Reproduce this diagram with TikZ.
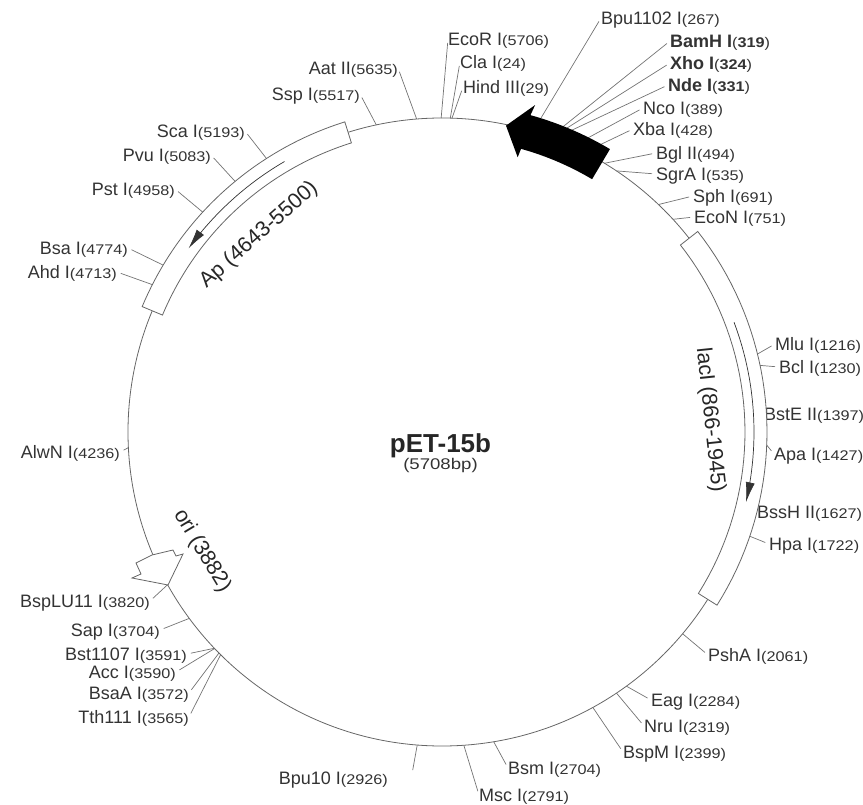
\documentclass[tikz,border=0pt]{standalone}
\usepackage{fontspec}
\setmainfont{Liberation Sans}
\usetikzlibrary{arrows.meta,positioning,calc}

% kb to degrees
\newcommand{\kb}{0.06307}
\newcommand{\sitepos}[1]{\scalebox{1.16}[1]{\fontsize{14pt}{14pt}\selectfont(#1)}}

\tikzset{
  sitelabel/.style={font=\fontsize{18pt}{18pt}\selectfont,text=black!80,inner sep=0pt,text height=12.8pt,text depth=0pt},
  leader/.style={draw=black!55,line width=0.7pt,shorten >=4pt},
  genebox/.style={draw=black!60,line width=0.8pt,fill=white},
  genearrow/.style={draw=black!80,line width=0.7pt,-{Latex[length=20pt,width=9pt]}},
  genename/.style={font=\fontsize{21.5pt}{22pt}\selectfont,text=black!85,inner sep=0pt}
}

\begin{document}
\begin{tikzpicture}[x=1pt,y=-1pt,>=Stealth]
  \useasboundingbox (0,0) rectangle (863,805);

  % 右上标签
  \node[sitelabel,anchor=west] (Bpu1102) at (601,18) {Bpu1102 I\sitepos{267}};
  \node[sitelabel,anchor=west] (BamH) at (670,41) {\textbf{BamH I}\sitepos{\textbf{319}}};
  \node[sitelabel,anchor=west] (Xho) at (670,63) {\textbf{Xho I}\sitepos{\textbf{324}}};
  \node[sitelabel,anchor=west] (Nde) at (668,85) {\textbf{Nde I}\sitepos{\textbf{331}}};
  \node[sitelabel,anchor=west] (Nco) at (643,108) {Nco I\sitepos{389}};
  \node[sitelabel,anchor=west] (Xba) at (633,129) {Xba I\sitepos{428}};
  \node[sitelabel,anchor=west] (Bgl) at (656,153) {Bgl II\sitepos{494}};
  \node[sitelabel,anchor=west] (SgrA) at (656,174) {SgrA I\sitepos{535}};
  \node[sitelabel,anchor=west] (Sph) at (693,196) {Sph I\sitepos{691}};
  \node[sitelabel,anchor=west] (EcoN) at (694,217) {EcoN I\sitepos{751}};

  % 右侧标签
  \node[sitelabel,anchor=west] (Mlu) at (775,344) {Mlu I\sitepos{1216}};
  \node[sitelabel,anchor=west] (Bcl) at (779,367) {Bcl I\sitepos{1230}};
  \node[sitelabel,anchor=west] (BstE) at (764,414) {BstE II\sitepos{1397}};
  \node[sitelabel,anchor=west] (Apa) at (774,454) {Apa I\sitepos{1427}};
  \node[sitelabel,anchor=west] (BssH) at (757,512) {BssH II\sitepos{1627}};
  \node[sitelabel,anchor=west] (Hpa) at (769,544) {Hpa I\sitepos{1722}};

  % 下方标签
  \node[sitelabel,anchor=west] (PshA) at (708,655) {PshA I\sitepos{2061}};
  \node[sitelabel,anchor=west] (Eag) at (651,700) {Eag I\sitepos{2284}};
  \node[sitelabel,anchor=west] (Nru) at (644,726) {Nru I\sitepos{2319}};
  \node[sitelabel,anchor=west] (BspM) at (623,752) {BspM I\sitepos{2399}};
  \node[sitelabel,anchor=west] (Bsm) at (508,768) {Bsm I\sitepos{2704}};
  \node[sitelabel,anchor=west] (Msc) at (479,795) {Msc I\sitepos{2791}};
  \node[sitelabel,anchor=east] (Bpu10) at (388,778) {Bpu10 I\sitepos{2926}};

  % 左下标签
  \node[sitelabel,anchor=east] (Tth111) at (189,717) {Tth111 I\sitepos{3565}};
  \node[sitelabel,anchor=east] (BsaA) at (189,693) {BsaA I\sitepos{3572}};
  \node[sitelabel,anchor=east] (Acc) at (176,672) {Acc I\sitepos{3590}};
  \node[sitelabel,anchor=east] (Bst1107) at (187,654) {Bst1107 I\sitepos{3591}};
  \node[sitelabel,anchor=east] (Sap) at (160,630) {Sap I\sitepos{3704}};
  \node[sitelabel,anchor=east] (BspLU11) at (150,601) {BspLU11 I\sitepos{3820}};
  \node[sitelabel,anchor=east] (AlwN) at (120,452) {AlwN I\sitepos{4236}};

  % 左上标签
  \node[sitelabel,anchor=east] (Ahd) at (117,272) {Ahd I\sitepos{4713}};
  \node[sitelabel,anchor=east] (Bsa) at (128,248) {Bsa I\sitepos{4774}};
  \node[sitelabel,anchor=east] (Pst) at (175,189) {Pst I\sitepos{4958}};
  \node[sitelabel,anchor=east] (Pvu) at (211,155) {Pvu I\sitepos{5083}};
  \node[sitelabel,anchor=east] (Sca) at (245,131) {Sca I\sitepos{5193}};
  \node[sitelabel,anchor=east] (Ssp) at (360,94) {Ssp I\sitepos{5517}};
  \node[sitelabel,anchor=east] (Aat) at (398,68) {Aat II\sitepos{5635}};
  \node[sitelabel,anchor=west] (EcoR) at (448,39) {EcoR I\sitepos{5706}};
  \node[sitelabel,anchor=west] (Cla) at (460,62) {Cla I\sitepos{24}};
  \node[sitelabel,anchor=west] (Hind) at (463,87) {Hind III\sitepos{29}};

  \begin{scope}[shift={(442,432)}]
    % 酶切位点
    \coordinate (tBpu1102) at (267*\kb-90:314);
    \coordinate (tBamH) at (319*\kb-90:314);
    \coordinate (tXho) at (324*\kb-90:314);
    \coordinate (tNde) at (331*\kb-90:314);
    \coordinate (tNco) at (389*\kb-90:314);
    \coordinate (tXba) at (428*\kb-90:314);
    \coordinate (tBgl) at (494*\kb-90:314);
    \coordinate (tSgrA) at (535*\kb-90:314);
    \coordinate (tSph) at (691*\kb-90:314);
    \coordinate (tEcoN) at (751*\kb-90:314);
    \coordinate (tMlu) at (1216*\kb-90:314);
    \coordinate (tBcl) at (1230*\kb-90:314);
    \coordinate (tBstE) at (1397*\kb-90:314);
    \coordinate (tApa) at (1427*\kb-90:314);
    \coordinate (tBssH) at (1627*\kb-90:314);
    \coordinate (tHpa) at (1722*\kb-90:314);
    \coordinate (tPshA) at (2061*\kb-90:314);
    \coordinate (tEag) at (2284*\kb-90:314);
    \coordinate (tNru) at (2319*\kb-90:314);
    \coordinate (tBspM) at (2399*\kb-90:314);
    \coordinate (tBsm) at (2704*\kb-90:314);
    \coordinate (tMsc) at (2791*\kb-90:314);
    \coordinate (tBpu10) at (2926*\kb-90:314);
    \coordinate (tTth111) at (3565*\kb-90:314);
    \coordinate (tBsaA) at (3572*\kb-90:314);
    \coordinate (tAcc) at (3590*\kb-90:314);
    \coordinate (tBst1107) at (3591*\kb-90:314);
    \coordinate (tSap) at (3704*\kb-90:314);
    \coordinate (tBspLU11) at (3820*\kb-90:314);
    \coordinate (tAlwN) at (4236*\kb-90:314);
    \coordinate (tAhd) at (4713*\kb-90:314);
    \coordinate (tBsa) at (4774*\kb-90:314);
    \coordinate (tPst) at (4958*\kb-90:314);
    \coordinate (tPvu) at (5083*\kb-90:314);
    \coordinate (tSca) at (5193*\kb-90:314);
    \coordinate (tSsp) at (5517*\kb-90:314);
    \coordinate (tAat) at (5635*\kb-90:314);
    \coordinate (tEcoR) at (5706*\kb-90:314);
    \coordinate (tCla) at (24*\kb-90:314);
    \coordinate (tHind) at (29*\kb-90:314);
  \end{scope}

  % 引线
  \draw[leader] (tBpu1102) -- (Bpu1102.west);
  \draw[leader] (tBamH) -- (BamH.west);
  \draw[leader] (tXho) -- (Xho.west);
  \draw[leader] (tNde) -- (Nde.west);
  \draw[leader] (tNco) -- (Nco.west);
  \draw[leader] (tXba) -- (Xba.west);
  \draw[leader] (tBgl) -- (Bgl.west);
  \draw[leader] (tSgrA) -- (SgrA.west);
  \draw[leader] (tSph) -- (Sph.west);
  \draw[leader] (tEcoN) -- (EcoN.west);
  \draw[leader] (tMlu) -- (Mlu.west);
  \draw[leader] (tBcl) -- (Bcl.west);
  \draw[leader] (tBstE) -- (BstE.west);
  \draw[leader] (tApa) -- (Apa.west);
  \draw[leader] (tBssH) -- (BssH.west);
  \draw[leader] (tHpa) -- (Hpa.west);
  \draw[leader] (tPshA) -- (PshA.west);
  \draw[leader] (tEag) -- (Eag.west);
  \draw[leader] (tNru) -- (Nru.west);
  \draw[leader] (tBspM) -- (BspM.west);
  \draw[leader] (tBsm) -- (Bsm.west);
  \draw[leader] (tMsc) -- (Msc.west);
  \draw[leader] (tBpu10) -- ([xshift=24pt,yshift=4pt]Bpu10.east);
  \draw[leader] (tTth111) -- (Tth111.east);
  \draw[leader] (tBsaA) -- (BsaA.east);
  \draw[leader] (tAcc) -- (Acc.east);
  \draw[leader] (tBst1107) -- (Bst1107.east);
  \draw[leader] (tSap) -- (Sap.east);
  \draw[leader] (tBspLU11) -- (BspLU11.east);
  \draw[leader] (tAlwN) -- (AlwN.east);
  \draw[leader] (tAhd) -- (Ahd.east);
  \draw[leader] (tBsa) -- (Bsa.east);
  \draw[leader] (tPst) -- (Pst.east);
  \draw[leader] (tPvu) -- (Pvu.east);
  \draw[leader] (tSca) -- (Sca.east);
  \draw[leader] (tSsp) -- (Ssp.east);
  \draw[leader] (tAat) -- (Aat.east);
  \draw[leader] (tEcoR) -- (EcoR.west);
  \draw[leader] (tCla) -- (Cla.west);
  \draw[leader] (tHind) -- (Hind.west);

  \begin{scope}[shift={(442,432)}]
    % 质粒环
    \draw[draw=black!60,line width=0.8pt] (0,0) circle (314);

    % lacI 和 Ap
    \draw[genebox] plot[domain=51.9:122.2,samples=40] (\x-90:325) -- plot[domain=122.2:51.9,samples=40] (\x-90:303) -- cycle;
    \draw[genearrow] plot[domain=69.4:103,samples=30] (\x-90:312);
    \draw[genebox] plot[domain=292.7:342.6,samples=40] (\x-90:325) -- plot[domain=342.6:292.7,samples=40] (\x-90:303) -- cycle;
    \draw[genearrow] plot[domain=329.8:305.9,samples=30] (\x-90:313);

    % T7 箭头
    \fill[black] (11.8-90:313) -- (15.9-90:340) -- plot[domain=15.6:30.7,samples=20] (\x-90:329) -- plot[domain=30.7:15.6,samples=20] (\x-90:294) -- (15.4-90:285) -- cycle;
  \end{scope}

  % ori
  \draw[genebox] (136,563) -- (152,555) -- (173,550) -- (176,556) -- (183,554) -- (168,585) -- (132,578) -- (141,574) -- cycle;

  % 文字
  \node[genename,rotate=41.5] (ApName) at (259,235) {Ap (4643-5500)};
  \node[genename,rotate=-84] (lacIName) at (710,420) {lacI (866-1945)};
  \node[genename,rotate=-59] (oriName) at (202,551) {ori (3882)};
  \node[font=\bfseries\fontsize{26pt}{26pt}\selectfont,text=black!85,inner sep=0pt,text height=18.6pt,text depth=0pt] (title) at (440.5,443) {pET-15b};
  \node[font=\fontsize{15.5pt}{16pt}\selectfont,text=black!80,inner sep=0pt,below=5.4pt of title] (size) {\scalebox{1.2}[1]{(5708bp)}};
\end{tikzpicture}
\end{document}
